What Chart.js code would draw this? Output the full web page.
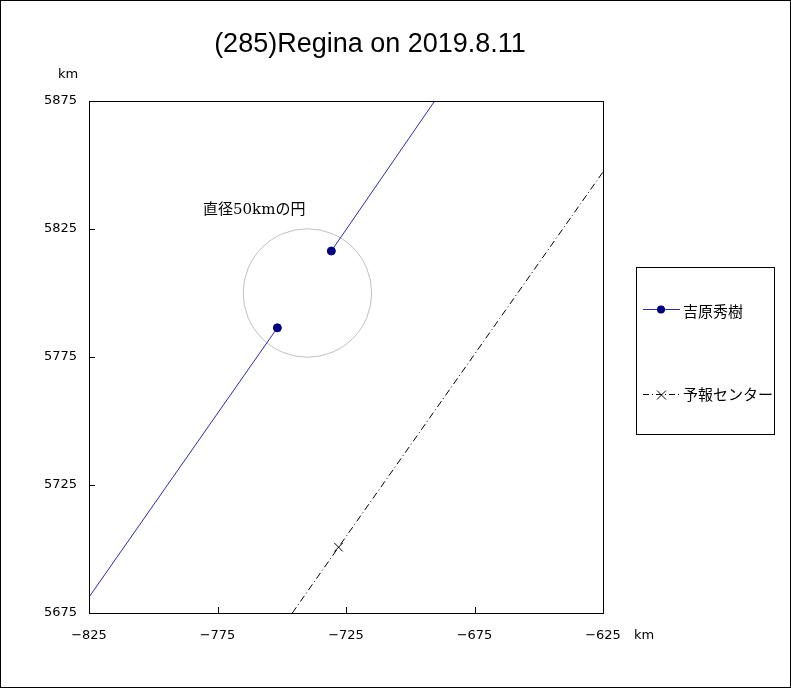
<!DOCTYPE html>
<html>
<head>
<meta charset="utf-8">
<script src="https://cdn.jsdelivr.net/npm/chart.js@4"></script>
<style>
  html, body { margin: 0; padding: 0; background: #fff; }
  #wrap { position: relative; width: 789px; height: 686px; border: 1px solid #000; }
</style>
</head>
<body>
<div id="wrap"><canvas id="chart" width="789" height="686"></canvas></div>
<script>
// 観測データ (km)
const observerX = [-825, -751.7, null, -730.7, -690.5];
const observerY = [5681.2, 5786.4, null, 5816.4, 5875];
const observerMarks = [0, 4, 0, 4, 0];

const forecastX = [-745.9, -727.9, -625];
const forecastY = [5675, 5700.7, 5847.3];
const forecastMarks = [0, 6, 0];

// 直径50kmの円
const circleCenter = [-740, 5800];
const circleRadius = 25;
const circleLabel = '直径50kmの円';

const xTicks = [-825, -775, -725, -675, -625];
const yTicks = [5675, 5725, 5775, 5825, 5875];
const legendNames = ['吉原秀樹', '予報センター'];

const toPoints = (xs, ys) => xs.map((x, i) => x === null ? {x: NaN, y: NaN} : {x, y: ys[i]});

const fontLatin = '"Liberation Sans", "Noto Sans CJK JP", sans-serif';
const fontTick = '"DejaVu Sans", sans-serif';
const fontJp = '"Noto Sans CJK JP", sans-serif';

// 枠・内向き目盛・円・凡例などを描くプラグイン
const extras = {
    id: 'extras',
    beforeDatasetsDraw(chart) {
        const {ctx, scales: {x, y}} = chart;
        ctx.save();
        // 円
        const cx = x.getPixelForValue(circleCenter[0]);
        const cy = y.getPixelForValue(circleCenter[1]);
        const r = x.getPixelForValue(circleCenter[0] + circleRadius) - cx;
        ctx.strokeStyle = '#c0c0c0';
        ctx.lineWidth = 1;
        ctx.beginPath();
        ctx.arc(cx, cy, r, 0, Math.PI * 2);
        ctx.stroke();
        ctx.fillStyle = '#000';
        ctx.font = '15px "DejaVu Serif", "Noto Sans CJK JP", serif';
        ctx.textBaseline = 'middle';
        ctx.fillText(circleLabel, 202, 209);
        ctx.restore();
    },
    afterDraw(chart) {
        const {ctx, chartArea: a, scales: {x, y}} = chart;
        ctx.save();
        ctx.strokeStyle = '#000';
        ctx.lineWidth = 1;
        ctx.strokeRect(Math.round(a.left) + 0.5, Math.round(a.top) + 0.5,
                       Math.round(a.right - a.left), Math.round(a.bottom - a.top));
        ctx.beginPath();
        xTicks.forEach(v => {
            const px = Math.round(x.getPixelForValue(v)) + 0.5;
            ctx.moveTo(px, a.bottom); ctx.lineTo(px, a.bottom - 6);
        });
        yTicks.forEach(v => {
            const py = Math.round(y.getPixelForValue(v)) + 0.5;
            ctx.moveTo(a.left, py); ctx.lineTo(a.left + 6, py);
        });
        ctx.stroke();

        // 単位
        ctx.fillStyle = '#000';
        ctx.font = '13px ' + fontTick;
        ctx.textBaseline = 'middle';
        ctx.textAlign = 'left';
        ctx.fillText('km', 57, 74);
        ctx.fillText('km', 633, 635);

        // 凡例
        ctx.strokeRect(635.5, 266.5, 138, 167);
        ctx.font = '15px ' + fontJp;
        ctx.strokeStyle = '#2b2bb0';
        ctx.beginPath(); ctx.moveTo(642, 308.5); ctx.lineTo(679, 308.5); ctx.stroke();
        ctx.fillStyle = '#000080';
        ctx.beginPath(); ctx.arc(660, 308.5, 4, 0, Math.PI * 2); ctx.fill();
        ctx.fillStyle = '#000';
        ctx.fillText(legendNames[0], 682, 310);

        ctx.strokeStyle = '#000';
        ctx.setLineDash([6, 3, 1, 3]);
        ctx.beginPath(); ctx.moveTo(642, 393.5); ctx.lineTo(679, 393.5); ctx.stroke();
        ctx.setLineDash([]);
        ctx.beginPath();
        ctx.moveTo(656, 389.5); ctx.lineTo(665, 398.5);
        ctx.moveTo(665, 389.5); ctx.lineTo(656, 398.5);
        ctx.stroke();
        ctx.fillText(legendNames[1], 682, 393);
        ctx.restore();
    }
};

new Chart(document.getElementById('chart'), {
    type: 'scatter',
    data: {
        datasets: [
            {
                label: legendNames[0],
                data: toPoints(observerX, observerY),
                showLine: true,
                spanGaps: false,
                borderColor: '#2b2bb0',
                borderWidth: 1,
                backgroundColor: '#000080',
                pointBorderColor: '#000080',
                pointRadius: observerMarks,
                pointHoverRadius: observerMarks
            },
            {
                label: legendNames[1],
                data: toPoints(forecastX, forecastY),
                showLine: true,
                borderColor: '#000',
                borderWidth: 1,
                borderDash: [7, 3, 1, 3],
                pointStyle: 'cross',
                rotation: 45,
                pointBorderColor: '#000',
                pointBorderWidth: 1,
                pointRadius: forecastMarks,
                pointHoverRadius: forecastMarks
            }
        ]
    },
    options: {
        responsive: false,
        animation: false,
        events: [],
        layout: { padding: { left: 0, right: 51, top: 0, bottom: 30 } },
        plugins: {
            legend: { display: false },
            tooltip: { enabled: false },
            title: {
                display: true,
                text: '(285)Regina on 2019.8.11',
                color: '#000',
                font: { family: fontLatin, size: 27, weight: 'normal' },
                padding: { top: 27, bottom: 40.6 }
            }
        },
        scales: {
            x: {
                type: 'linear',
                min: -825, max: -625,
                afterBuildTicks: s => { s.ticks = xTicks.map(v => ({value: v})); },
                afterFit: s => { s.height = 44; },
                grid: { display: false },
                border: { display: false },
                ticks: {
                    color: '#000',
                    padding: 7,
                    font: { family: fontTick, size: 13 },
                    callback: v => String(v).replace('-', '\u2212')
                }
            },
            y: {
                type: 'linear',
                min: 5675, max: 5875,
                afterBuildTicks: s => { s.ticks = yTicks.map(v => ({value: v})); },
                afterFit: s => { s.width = 88; },
                grid: { display: false, drawTicks: false },
                border: { display: false },
                ticks: {
                    color: '#000',
                    padding: 12,
                    font: { family: fontTick, size: 13 },
                    callback: v => String(v)
                }
            },
            // 右側の余白 (凡例用)
            y2: {
                type: 'linear',
                position: 'right',
                display: true,
                afterFit: s => { s.width = 136; },
                grid: { display: false },
                border: { display: false },
                ticks: { display: false }
            }
        }
    },
    plugins: [extras]
});
</script>
</body>
</html>
